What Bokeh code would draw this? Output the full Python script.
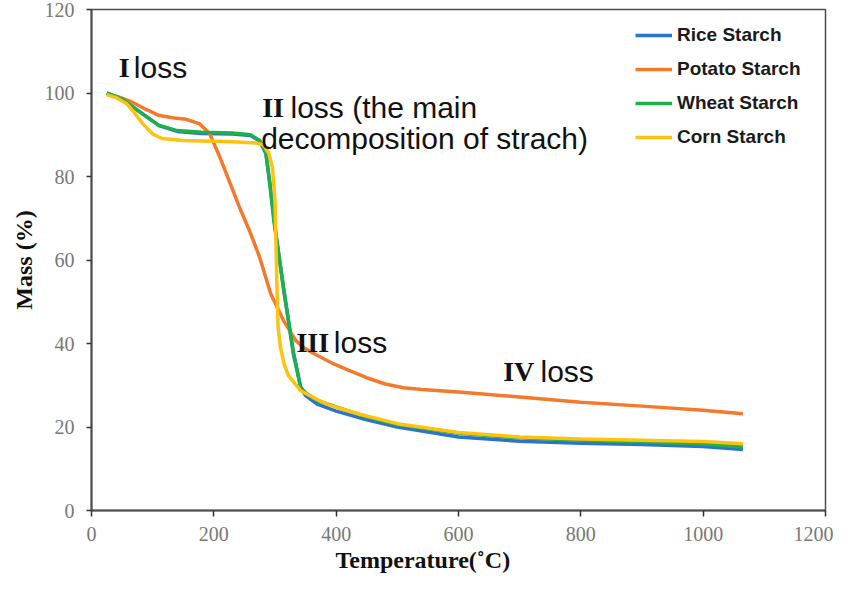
from bokeh.embed import file_html
from bokeh.models import Label, Legend, LegendItem, Range1d, SingleIntervalTicker, Title
from bokeh.plotting import figure
from bokeh.resources import INLINE

# TGA curves: temperature (C) and remaining mass (%)
rice_t = [25, 50, 80, 110, 140, 180, 230, 260, 275, 285, 292, 300, 314, 330, 342,
          350, 370, 400, 450, 500, 600, 700, 800, 900, 1000, 1065]
rice_m = [100, 98.5, 95.4, 92.2, 90.8, 90.3, 90.2, 89.8, 88.5, 85.5, 78, 68, 53, 38, 29.5,
          27.5, 25.4, 23.8, 21.7, 20.0, 17.6, 16.6, 16.1, 15.8, 15.3, 14.6]

potato_t = [25, 45, 67, 90, 111, 135, 155, 177, 193, 210, 242, 260, 275, 293, 314,
            334, 347, 365, 396, 420, 450, 480, 510, 540, 605, 700, 800, 900, 1000, 1065]
potato_m = [99.8, 99.0, 97.8, 96.0, 94.6, 94.0, 93.7, 92.6, 90.3, 84.6, 72.6, 66.4, 60.6, 51.9, 45.5,
            40.7, 39.0, 37.5, 35.1, 33.6, 31.8, 30.3, 29.4, 29.0, 28.3, 27.2, 25.9, 25.0, 24.0, 23.2]

wheat_t = [25, 50, 80, 110, 140, 180, 230, 260, 275, 285, 292, 298, 314, 330, 342,
           350, 370, 400, 450, 500, 600, 700, 800, 900, 1000, 1065]
wheat_m = [100, 98.6, 95.3, 92.3, 91.0, 90.6, 90.4, 90.0, 88.6, 86.0, 77.5, 69.5, 53.4, 37.5, 29.5,
           28.2, 26.3, 24.8, 22.4, 20.6, 18.5, 17.4, 16.8, 16.4, 15.9, 15.2]

corn_t = [25, 40, 57, 70, 84, 100, 115, 150, 230, 270, 281, 290, 296, 300, 303,
          305, 309, 315, 322, 342, 370, 396, 440, 500, 600, 700, 800, 900, 1000, 1065]
corn_m = [99.6, 98.9, 97.5, 95.3, 92.6, 90.2, 89.1, 88.6, 88.3, 88.0, 87.6, 85.5, 82, 74, 55,
          44, 39, 35, 32.3, 28.7, 26.5, 24.9, 23.0, 20.8, 18.7, 17.6, 17.1, 16.8, 16.5, 16.0]

series = ["Rice Starch", "Potato Starch", "Wheat Starch", "Corn Starch"]
colors = ["#2b73cf", "#f37a2a", "#1db04d", "#ffc20e"]

x_ticks_step = 200
y_ticks_step = 20

p = figure(width=833, height=574, title=None, output_backend="svg", toolbar_location=None,
           x_range=Range1d(0, 1200), y_range=Range1d(0, 120),
           min_border_left=91, min_border_right=8, min_border_top=9, min_border_bottom=64)
p.grid.visible = False
p.background_fill_color = "white"
p.border_fill_color = "white"
p.outline_line_color = "#4d4d4d"
p.outline_line_width = 1.5

p.xaxis.ticker = SingleIntervalTicker(interval=x_ticks_step)
p.yaxis.ticker = SingleIntervalTicker(interval=y_ticks_step)
for ax in (p.xaxis, p.yaxis):
    ax.axis_line_color = "#4d4d4d"
    ax.axis_line_width = 2
    ax.major_tick_line_color = "#333333"
    ax.major_tick_line_width = 1.5
    ax.major_tick_in = 0
    ax.minor_tick_line_color = None
    ax.major_label_text_font = "Liberation Serif"
    ax.major_label_text_font_size = "20px"
    ax.major_label_text_color = "#777777"
p.xaxis.major_tick_out = 6
p.xaxis.major_label_standoff = 10
p.yaxis.major_tick_out = 5
p.yaxis.major_label_standoff = 12

p.yaxis.axis_label = "Mass (%)"
p.yaxis.axis_label_standoff = 5
p.yaxis.axis_label_text_font = "Liberation Serif"
p.yaxis.axis_label_text_font_style = "bold"
p.yaxis.axis_label_text_font_size = "24px"
p.yaxis.axis_label_text_color = "#111111"

xtitle = Title(text="Temperature(˚C)", align="left", offset=244, standoff=3,
               text_font="Liberation Serif", text_font_style="bold",
               text_font_size="24px", text_color="#111111")
p.add_layout(xtitle, "below")

# draw order: rice under the others, corn on top
r_rice = p.line(rice_t, rice_m, line_color=colors[0], line_width=3.5)
r_potato = p.line(potato_t, potato_m, line_color=colors[1], line_width=3.5)
r_wheat = p.line(wheat_t, wheat_m, line_color=colors[2], line_width=3.5)
r_corn = p.line(corn_t, corn_m, line_color=colors[3], line_width=3.5)
renderers = [r_rice, r_potato, r_wheat, r_corn]

legend = Legend(items=[LegendItem(label=s, renderers=[r]) for s, r in zip(series, renderers)],
                location=(544, 362), orientation="vertical",
                border_line_color=None, background_fill_alpha=0,
                padding=0, margin=0, spacing=12,
                glyph_width=37, glyph_height=22, label_height=22, label_standoff=5,
                label_text_font="Liberation Sans", label_text_font_style="bold",
                label_text_font_size="19px", label_text_color="#1a1a1a")
p.add_layout(legend)

# stage annotations: roman numeral in serif bold, rest in sans
num_font = dict(text_font="Liberation Serif", text_font_style="bold",
                text_font_size="28px", text_color="#111111", text_baseline="alphabetic")
txt_font = dict(text_font="Liberation Sans", text_font_size="30px",
                text_color="#111111", text_baseline="alphabetic")
p.add_layout(Label(x=44.6, y=106.2, text="I", **num_font))
p.add_layout(Label(x=69.2, y=106.2, text="loss", **txt_font))
p.add_layout(Label(x=279.1, y=96.6, text="II", **num_font))
p.add_layout(Label(x=325.3, y=96.6, text="loss (the main", **txt_font))
p.add_layout(Label(x=277.4, y=89.0, text="decomposition of strach)", **txt_font))
p.add_layout(Label(x=335.1, y=40.2, text="III", **num_font))
p.add_layout(Label(x=396.1, y=40.2, text="loss", **txt_font))
p.add_layout(Label(x=673.1, y=33.4, text="IV", **num_font))
p.add_layout(Label(x=734.1, y=33.4, text="loss", **txt_font))

open("out.html", "w").write(file_html(p, INLINE))
